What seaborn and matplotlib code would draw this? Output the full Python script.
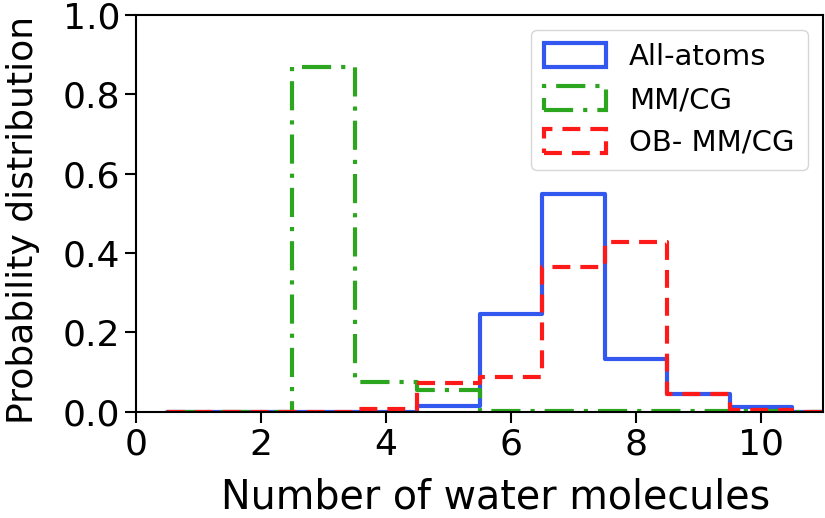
import numpy as np
import pandas as pd
import matplotlib
matplotlib.use("Agg")
import matplotlib.pyplot as plt
import seaborn as sns
from matplotlib.patches import Patch

# Data (probability per number of water molecules)
n_water = [1, 2, 3, 4, 5, 6, 7, 8, 9, 10, 11, 12]
all_atoms = [0.0, 0.0, 0.0, 0.0, 0.015, 0.247, 0.549, 0.134, 0.045, 0.012, 0.0, 0.0]
mm_cg = [0.0, 0.0, 0.869, 0.075, 0.055, 0.002, 0.002, 0.002, 0.002, 0.002, 0.0, 0.0]
ob_mm_cg = [0.0, 0.0, 0.0, 0.008, 0.073, 0.088, 0.365, 0.428, 0.045, 0.004, 0.0, 0.0]

labels = ["All-atoms", "MM/CG", "OB- MM/CG"]
colors = ["#3358ef", "#2ca51f", "#ff1a1a"]
styles = ["-", (0, (7, 2.4, 1, 2.4)), (0, (4.3, 2.4))]

sns.set_style("ticks")
plt.rcParams["font.family"] = ["DejaVu Sans"]
plt.rcParams["text.color"] = "black"
plt.rcParams["axes.labelcolor"] = "black"
plt.rcParams["xtick.color"] = "black"
plt.rcParams["ytick.color"] = "black"
plt.rcParams["axes.edgecolor"] = "black"

fig = plt.figure(figsize=(8.25, 5.18), dpi=100)
ax = fig.add_axes([0.165, 0.205, 0.833, 0.766])

edges = [float(e) for e in np.arange(0.5, 13.0, 1.0)]
for vals, lab, col, ls in zip([all_atoms, mm_cg, ob_mm_cg], labels, colors, styles):
    df = pd.DataFrame({"n": n_water, "p": vals})
    sns.histplot(data=df, x="n", weights="p", bins=edges, element="step",
                 fill=False, color=col, linestyle=ls, linewidth=3, ax=ax)

ax.set_xlim(0, 11)
ax.set_ylim(0, 1.0)
ax.set_xticks([0, 2, 4, 6, 8, 10])
ax.set_yticks([0.0, 0.2, 0.4, 0.6, 0.8, 1.0])
ax.set_xlabel("Number of water molecules", fontsize=28.5)
ax.set_ylabel("Probability distribution", fontsize=26)
ax.xaxis.set_label_coords(0.5225, -0.165)
ax.yaxis.set_label_coords(-0.14, 0.484)
ax.tick_params(labelsize=26, length=8, width=1.5)
for s in ax.spines.values():
    s.set_linewidth(1.5)
    s.set_visible(True)

handles = [Patch(facecolor="none", edgecolor=c, linestyle=ls, linewidth=3, label=l)
           for c, ls, l in zip(colors, styles, labels)]
ax.legend(handles=handles, loc="upper right", fontsize=21, handlelength=2.1,
          handleheight=0.9, frameon=True, borderpad=0.45, borderaxespad=0,
          bbox_to_anchor=(0.977, 0.962))

fig.savefig("out.png", dpi=100)
